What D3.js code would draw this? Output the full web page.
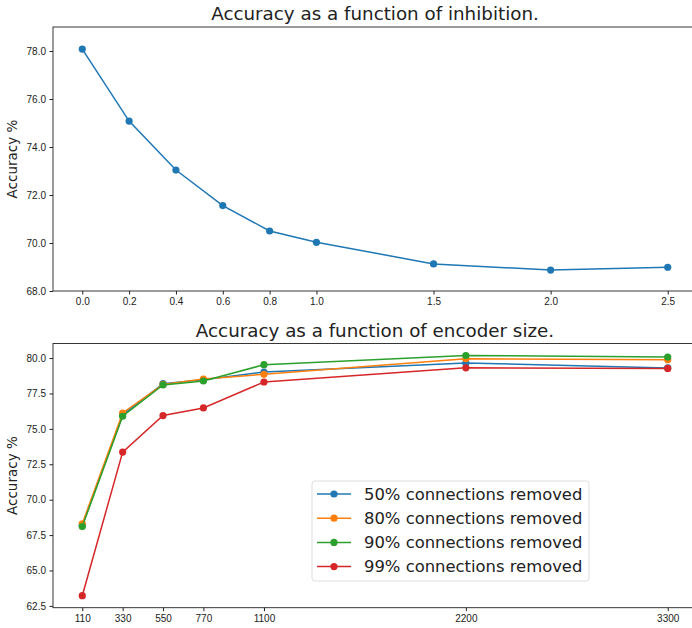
<!DOCTYPE html>
<html>
<head>
<meta charset="utf-8">
<script src="https://cdn.jsdelivr.net/npm/d3@7"></script>
<style>
  body { margin: 0; background: #fff; }
  svg { display: block; font-family: "DejaVu Sans", sans-serif; }
  .axis text { font-size: 10px; fill: #222; }
  .axis path, .axis line { stroke: #222; }
</style>
</head>
<body>
<div id="chart"></div>
<script>
// top panel: accuracy vs inhibition
const inhibition = [0.0, 0.2, 0.4, 0.6, 0.8, 1.0, 1.5, 2.0, 2.5];
const inhibitionAcc = [78.08, 75.08, 73.04, 71.56, 70.5, 70.03, 69.13, 68.87, 68.99];
const inhibitionTicks = ["0.0", "0.2", "0.4", "0.6", "0.8", "1.0", "1.5", "2.0", "2.5"];
const topYTicks = [68, 70, 72, 74, 76, 78];

// bottom panel: accuracy vs encoder size
const encoderSize = [110, 330, 550, 770, 1100, 2200, 3300];
const seriesNames = [
    "50% connections removed",
    "80% connections removed",
    "90% connections removed",
    "99% connections removed"
];
const acc50 = [68.18, 76.0, 78.19, 78.47, 79.01, 79.65, 79.3];
const acc80 = [68.3, 76.12, 78.14, 78.52, 78.85, 79.95, 79.88];
const acc90 = [68.1, 75.89, 78.1, 78.38, 79.53, 80.18, 80.07];
const acc99 = [63.22, 73.36, 75.94, 76.48, 78.31, 79.31, 79.27];
const bottomYTicks = [62.5, 65, 67.5, 70, 72.5, 75, 77.5, 80];
const colors = ["#1f77b4", "#ff7f0e", "#2ca02c", "#d62728"];

const W = 692, H = 628;
const svg = d3.select("#chart").append("svg")
    .attr("width", W)
    .attr("height", H);

function drawPanel(top, bottom, title) {
    const g = svg.append("g");
    g.append("text")
        .attr("x", (53 + 697) / 2)
        .attr("y", top - 7)
        .attr("text-anchor", "middle")
        .style("font-size", "18.3px")
        .attr("fill", "#222")
        .text(title);
    g.append("text")
        .attr("transform", `translate(17,${(top + bottom) / 2}) rotate(-90)`)
        .attr("text-anchor", "middle")
        .style("font-size", "13.5px")
        .attr("fill", "#222")
        .text("Accuracy %");
    return g;
}

function frame(g, top, bottom) {
    g.append("rect")
        .attr("x", 53)
        .attr("y", top)
        .attr("width", 697 - 53)
        .attr("height", bottom - top)
        .attr("fill", "none")
        .attr("stroke", "#222")
        .attr("stroke-width", 0.9);
}

// ---------- top ----------
const t0 = 27, t1 = 291;
const gTop = drawPanel(t0, t1, "Accuracy as a function of inhibition.");

const x1 = d3.scaleLinear()
    .domain([-0.125, 2.625])
    .range([53, 697]);
const y1 = d3.scaleLinear()
    .domain([68, 79])
    .range([t1, t0]);

gTop.append("g")
    .attr("class", "axis")
    .attr("transform", `translate(0,${t1})`)
    .call(d3.axisBottom(x1).tickValues(inhibition).tickSize(3.5).tickPadding(3.5)
        .tickFormat((d, i) => inhibitionTicks[i]))
    .call(a => a.select(".domain").remove());
gTop.append("g")
    .attr("class", "axis")
    .attr("transform", "translate(53,0)")
    .call(d3.axisLeft(y1).tickValues(topYTicks).tickSize(3.5).tickPadding(3.5)
        .tickFormat(d3.format(".1f")))
    .call(a => a.select(".domain").remove());
frame(gTop, t0, t1);

const topPts = inhibition.map((v, i) => [v, inhibitionAcc[i]]);
gTop.append("path")
    .datum(topPts)
    .attr("fill", "none")
    .attr("stroke", colors[0])
    .attr("stroke-width", 1.5)
    .attr("d", d3.line().x(d => x1(d[0])).y(d => y1(d[1])));
gTop.selectAll("circle.dot")
    .data(topPts)
    .enter().append("circle")
    .attr("class", "dot")
    .attr("cx", d => x1(d[0]))
    .attr("cy", d => y1(d[1]))
    .attr("r", 3.6)
    .attr("fill", colors[0]);

// ---------- bottom ----------
const b0 = 343.5, b1 = 607.7;
const gBot = drawPanel(b0, b1, "Accuracy as a function of encoder size.");

const allSeries = [acc50, acc80, acc90, acc99];
const lo = d3.min(allSeries, s => d3.min(s));
const hi = d3.max(allSeries, s => d3.max(s));
const pad = (hi - lo) * 0.05;

const x2 = d3.scaleLinear()
    .domain([110 - 159.5, 3300 + 159.5])
    .range([53, 697]);
const y2 = d3.scaleLinear()
    .domain([lo - pad, hi + pad])
    .range([b1, b0]);

gBot.append("g")
    .attr("class", "axis")
    .attr("transform", `translate(0,${b1})`)
    .call(d3.axisBottom(x2).tickValues(encoderSize).tickSize(3.5).tickPadding(3.5)
        .tickFormat(d3.format("d")))
    .call(a => a.select(".domain").remove());
gBot.append("g")
    .attr("class", "axis")
    .attr("transform", "translate(53,0)")
    .call(d3.axisLeft(y2).tickValues(bottomYTicks).tickSize(3.5).tickPadding(3.5)
        .tickFormat(d3.format(".1f")))
    .call(a => a.select(".domain").remove());
frame(gBot, b0, b1);

allSeries.forEach((s, k) => {
    const pts = encoderSize.map((v, i) => [v, s[i]]);
    gBot.append("path")
        .datum(pts)
        .attr("fill", "none")
        .attr("stroke", colors[k])
        .attr("stroke-width", 1.5)
        .attr("d", d3.line().x(d => x2(d[0])).y(d => y2(d[1])));
    gBot.selectAll(null)
        .data(pts)
        .enter().append("circle")
        .attr("cx", d => x2(d[0]))
        .attr("cy", d => y2(d[1]))
        .attr("r", 3.6)
        .attr("fill", colors[k]);
});

// legend
const legend = gBot.append("g").attr("transform", "translate(312,481)");
legend.append("rect")
    .attr("width", 277)
    .attr("height", 100)
    .attr("rx", 3)
    .attr("fill", "#fff")
    .attr("fill-opacity", 0.8)
    .attr("stroke", "#ddd");
seriesNames.forEach((name, k) => {
    const row = legend.append("g").attr("transform", `translate(0,${13 + k * 24.2})`);
    row.append("line")
        .attr("x1", 5).attr("x2", 39)
        .attr("stroke", colors[k])
        .attr("stroke-width", 1.5);
    row.append("circle")
        .attr("cx", 22)
        .attr("r", 3.6)
        .attr("fill", colors[k]);
    row.append("text")
        .attr("x", 52)
        .attr("dy", "0.35em")
        .style("font-size", "16.4px")
        .attr("fill", "#222")
        .text(name);
});
</script>
</body>
</html>
